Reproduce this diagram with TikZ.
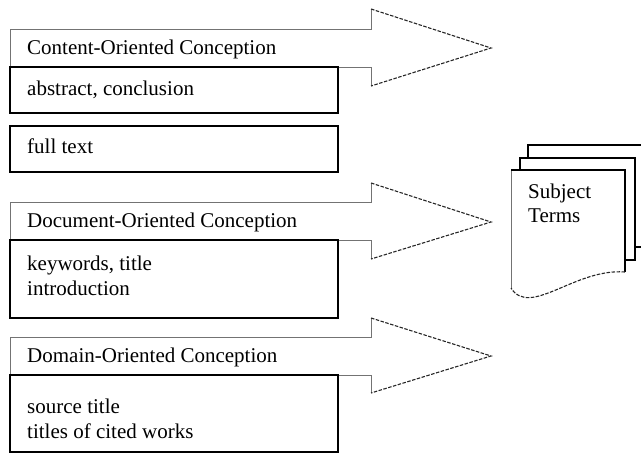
\documentclass[tikz,border=0pt]{standalone}
\usepackage{fontspec}
\setmainfont{Liberation Serif}
\begin{document}
\begin{tikzpicture}[x=1pt,y=-1pt,
  lbl/.style={anchor=base west,inner sep=0pt,font=\fontsize{21}{25}\selectfont},
  shaft/.style={draw=black!55,line width=0.9pt},
  headline/.style={draw=black!85,line width=1.1pt,dash pattern=on 3.5pt off 1.5pt},
  boxline/.style={draw=black,line width=1.8pt},
  pageline/.style={draw=black,line width=1.6pt,fill=white},
]
\useasboundingbox (0,0) rectangle (641,453);

% ---- arrows ----
\foreach \t/\b/\ht/\hb/\tip in {29/67/9/86/48, 202/240/183/259/222, 337/375/318/393/356}{
  \draw[shaft] (371,\b) -- (10,\b) -- (10,\t) -- (371,\t) -- (371,\ht);
  \draw[shaft] (371,\b) -- (371,\hb);
  \draw[headline] (371,\ht) -- (491,\tip) -- (371,\hb);
}

% ---- boxes ----
\draw[boxline] (10,67) rectangle (338,113);
\draw[boxline] (10,126) rectangle (338,172);
\draw[boxline] (10,240) rectangle (338,318);
\draw[boxline] (10,375) rectangle (338,452);

% ---- texts ----
\node[lbl] (coc) at (27,54) {Content-Oriented Conception};
\node[lbl] (abs) at (27,95) {abstract, conclusion};
\node[lbl] (ful) at (27,153) {full text};
\node[lbl] (doc) at (27,227) {Document-Oriented Conception};
\node[lbl] (kw) at (27,270) {keywords, title};
\node[lbl] (intro) at (27,295) {introduction};
\node[lbl] (dom) at (27,362) {Domain-Oriented Conception};
\node[lbl] (src) at (27,413) {source title};
\node[lbl] (cit) at (27,438) {titles of cited works};

% ---- multi-document ----
\draw[pageline] (528,145) rectangle (648,247);
\draw[pageline] (520,158) rectangle (635,260);
\fill[white] (511,170) -- (625,170) -- (625,272)
  .. controls (575,268) and (530,318) .. (511,288) -- cycle;
\draw[black!55,line width=0.9pt] (511,288) -- (511,170);
\draw[black,line width=1.6pt] (511,170) -- (625,170) -- (625,272);
\draw[black!85,line width=1.1pt,dash pattern=on 3.5pt off 1.5pt]
  (625,272) .. controls (575,268) and (530,318) .. (511,288);
\node[lbl] (subj) at (528,198) {Subject};
\node[lbl] (terms) at (528,222) {Terms};
\end{tikzpicture}
\end{document}
